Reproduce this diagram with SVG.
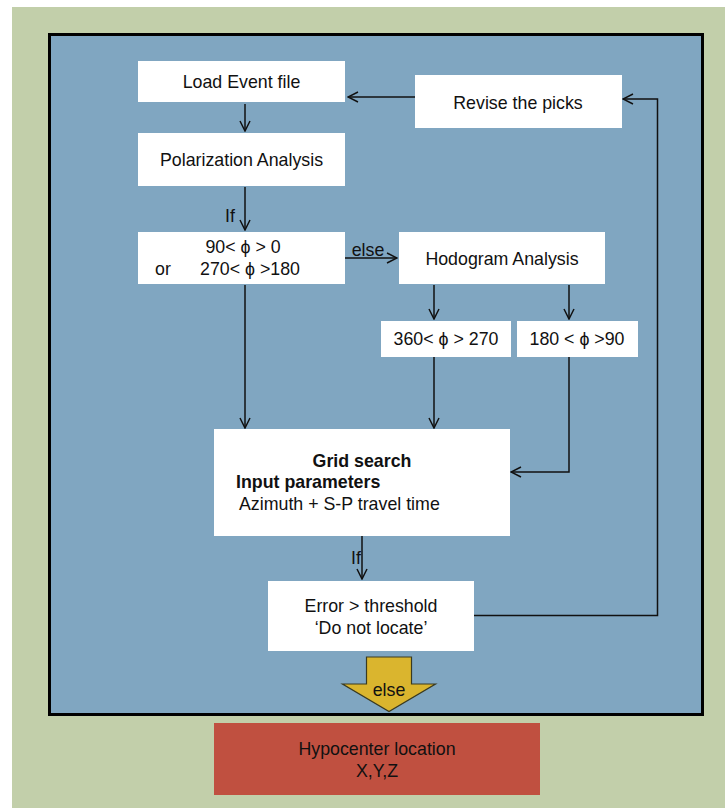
<svg xmlns="http://www.w3.org/2000/svg" width="725" height="808" viewBox="0 0 725 808">
<defs>
<style>
text{font-family:"Liberation Sans",Arial,sans-serif;font-size:17.8px;fill:#111;}
.box{fill:#fff;}
.c{text-anchor:middle;}
.b{font-weight:bold;}
.ln{fill:none;stroke:#111;stroke-width:1.5;}
</style>
<marker id="ah" viewBox="0 0 12 12" refX="11" refY="6" markerWidth="12" markerHeight="12" markerUnits="userSpaceOnUse" orient="auto">
<path d="M1,1 L11,6 L1,11" fill="none" stroke="#111" stroke-width="1.5"/>
</marker>
</defs>
<rect x="0" y="0" width="725" height="808" fill="#fff"/>
<rect x="12" y="7" width="713" height="801" fill="#C2CFAA"/>
<rect x="49.5" y="34.5" width="653" height="680" fill="#80A6C1" stroke="#000" stroke-width="3"/>

<g id="connectors">
<line class="ln" x1="245" y1="104" x2="245" y2="131" marker-end="url(#ah)"/>
<line class="ln" x1="245" y1="187" x2="245" y2="230" marker-end="url(#ah)"/>
<text x="230" y="222" class="c">If</text>
<line class="ln" x1="345" y1="258" x2="397" y2="258" marker-end="url(#ah)"/>
<text x="368" y="256" class="c">else</text>
<line class="ln" x1="434" y1="285" x2="434" y2="319" marker-end="url(#ah)"/>
<line class="ln" x1="569" y1="285" x2="569" y2="319" marker-end="url(#ah)"/>
<line class="ln" x1="245" y1="285" x2="245" y2="428" marker-end="url(#ah)"/>
<line class="ln" x1="434" y1="357" x2="434" y2="428" marker-end="url(#ah)"/>
<polyline class="ln" points="569,357 569,472 511,472" marker-end="url(#ah)"/>
<line class="ln" x1="362" y1="536" x2="362" y2="579" marker-end="url(#ah)"/>
<text x="356" y="564" class="c">If</text>
<polyline class="ln" points="474,615.5 657.5,615.5 657.5,99 623,99" marker-end="url(#ah)"/>
<line class="ln" x1="415" y1="97" x2="348" y2="97" marker-end="url(#ah)"/>
</g>

<g id="load">
<rect class="box" x="138" y="61" width="207" height="41"/>
<text x="241.5" y="88" class="c">Load Event file</text>
</g>
<g id="revise">
<rect class="box" x="415" y="75" width="207" height="53"/>
<text x="518" y="109" class="c">Revise the picks</text>
</g>
<g id="polarization">
<rect class="box" x="138" y="133" width="207" height="53"/>
<text x="241.5" y="166" class="c">Polarization Analysis</text>
</g>
<g id="condition">
<rect class="box" x="138" y="232" width="207" height="52"/>
<text x="243" y="253" class="c">90&lt; ϕ &gt; 0</text>
<text x="155" y="275">or</text>
<text x="200" y="275">270&lt; ϕ &gt;180</text>
</g>
<g id="hodogram">
<rect class="box" x="399" y="232" width="206" height="52"/>
<text x="502" y="265" class="c">Hodogram Analysis</text>
</g>
<g id="range1">
<rect class="box" x="381" y="321" width="130" height="36"/>
<text x="446" y="345" class="c">360&lt; ϕ &gt; 270</text>
</g>
<g id="range2">
<rect class="box" x="517" y="321" width="121" height="36"/>
<text x="577" y="345" class="c">180 &lt; ϕ &gt;90</text>
</g>
<g id="grid">
<rect class="box" x="214" y="429" width="296" height="107"/>
<text x="362" y="467" class="c b">Grid search</text>
<text x="236" y="488" class="b">Input parameters</text>
<text x="239" y="510">Azimuth + S-P travel time</text>
</g>
<g id="error">
<rect class="box" x="268" y="581" width="206" height="70"/>
<text x="371" y="612" class="c">Error &gt; threshold</text>
<text x="371" y="634" class="c">‘Do not locate’</text>
</g>
<g id="else-arrow">
<polygon points="366.5,657 411.5,657 411.5,684 435.5,684 389,711.5 342.5,684 366.5,684" fill="#DAB52E" stroke="#3a3a20" stroke-width="1.2"/>
<text x="389" y="696" class="c">else</text>
</g>
<g id="hypocenter">
<rect x="214" y="723" width="326" height="72" fill="#C05040"/>
<text x="377" y="755" class="c">Hypocenter location</text>
<text x="377" y="777" class="c">X,Y,Z</text>
</g>
</svg>
